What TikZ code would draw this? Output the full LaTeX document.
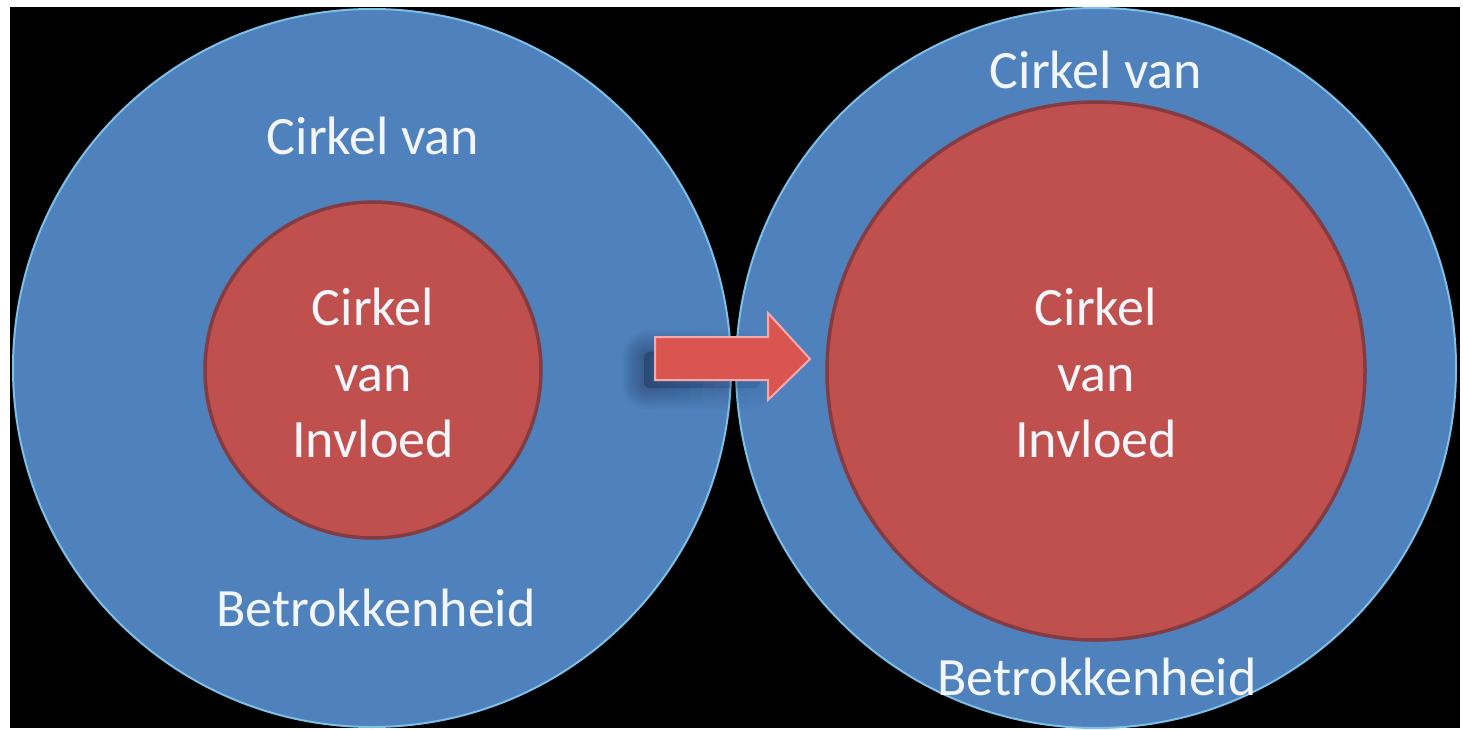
\documentclass[tikz,border=0pt]{standalone}
\usepackage{fontspec}
\usetikzlibrary{fadings}
\setmainfont{Carlito}
\definecolor{bgblue}{HTML}{4F81BD}
\definecolor{edgeblue}{HTML}{7CC0E8}
\definecolor{inred}{HTML}{C0504D}
\definecolor{inedge}{HTML}{843B42}
\definecolor{arrred}{HTML}{DB5550}
\definecolor{arredge}{HTML}{F7A8A8}
\definecolor{shad}{HTML}{1A2A4A}
\definecolor{txt}{HTML}{F2F6FB}
\tikzset{
  outer/.style={fill=bgblue, draw=edgeblue, line width=2pt},
  inner/.style={fill=inred, draw=inedge, line width=3.5pt},
  lbl/.style={text=txt, font=\fontsize{54}{66}\selectfont, anchor=base, inner sep=0pt},
}
\begin{document}
\begin{tikzpicture}[x=1pt,y=-1pt]
\useasboundingbox (0,0) rectangle (1463,730);
\fill[white] (0,0) rectangle (1463,730);
\fill[black] (10,7) rectangle (1460,728);
% left circles
\draw[outer] (372,368) circle[radius=359];
\draw[inner] (373,370) circle[radius=168];
% right circles
\draw[outer] (1096,368) circle[radius=360];
\draw[inner] (1096,371) circle[radius=269];
% arrow shadow (soft)
\foreach \w in {44,40,36,32,28,24,20,16,12,8,4}{
  \draw[shad, fill=shad, opacity=0.045, line width=\w pt, line join=round, rounded corners=6pt, path fading=east]
    (644,352) rectangle (760,388);
}
% arrow
\draw[fill=arrred, draw=arredge, line width=2pt, line join=miter]
  (655,337) -- (768,337) -- (768,313) -- (810,359) -- (768,400) -- (768,380) -- (655,380) -- cycle;
% left texts
\node[lbl] (l1) at (373,155) {Cirkel van};
\node[lbl] (l2) at (373,325) {Cirkel};
\node[lbl] (l3) at (373,391) {van};
\node[lbl] (l4) at (373,457) {Invloed};
\node[lbl] (l5) at (376,626) {Betrokkenheid};
% right texts
\node[lbl] (r1) at (1096,89) {Cirkel van};
\node[lbl] (r2) at (1096,325) {Cirkel};
\node[lbl] (r3) at (1096,391) {van};
\node[lbl] (r4) at (1096,457) {Invloed};
\node[lbl] (r5) at (1097,695) {Betrokkenheid};
\end{tikzpicture}
\end{document}
